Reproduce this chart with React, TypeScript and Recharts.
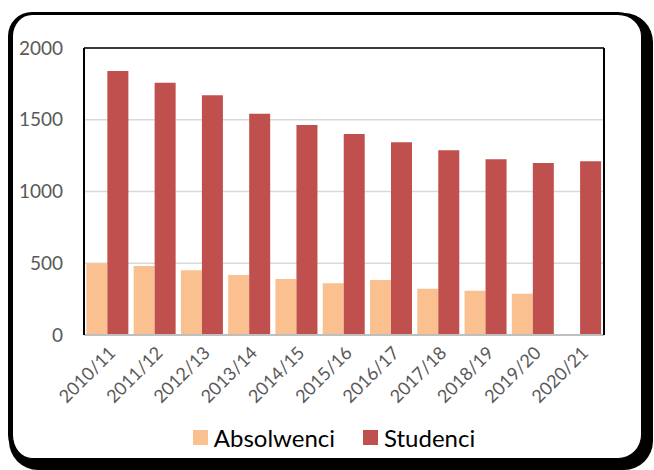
import { Bar, BarChart, CartesianGrid, Legend, XAxis, YAxis } from "recharts";

const categories = [
  "2010/11",
  "2011/12",
  "2012/13",
  "2013/14",
  "2014/15",
  "2015/16",
  "2016/17",
  "2017/18",
  "2018/19",
  "2019/20",
  "2020/21",
];
const absolwenci = [500, 481, 451, 418, 390, 360, 383, 323, 309, 288, 0];
const studenci = [1840, 1758, 1670, 1542, 1463, 1401, 1343, 1287, 1224, 1199, 1210];
const yTicks = [0, 500, 1000, 1500, 2000];

const seriesNames = ["Absolwenci", "Studenci"];
const colors = ["#FAC090", "#C0504D"];

const data = categories.map((rok, i) => ({
  rok,
  Absolwenci: absolwenci[i],
  Studenci: studenci[i],
}));

const font = "Lato, 'Open Sans', sans-serif";

const renderLegend = () => (
  <div
    style={{
      display: "flex",
      justifyContent: "center",
      alignItems: "center",
      height: 30,
      fontFamily: font,
      fontSize: 24,
      color: "#000",
    }}
  >
    {seriesNames.map((name, i) => (
      <span
        key={name}
        style={{ display: "flex", alignItems: "center", marginLeft: i ? 28 : 0 }}
      >
        <span
          style={{ width: 15, height: 15, background: colors[i], marginRight: 6 }}
        />
        {name}
      </span>
    ))}
  </div>
);

const App = () => {
  return (
    <div
      style={{
        position: "fixed",
        left: 0,
        top: 0,
        width: 654,
        height: 470,
        background: "#fff",
        overflow: "hidden",
      }}
    >
      <div
        style={{
          position: "absolute",
          left: 8,
          top: 12,
          width: 634,
          height: 447,
          boxSizing: "border-box",
          borderStyle: "solid",
          borderColor: "#000",
          borderWidth: "3px 1px 1px 5px",
          borderRadius: 24,
          boxShadow: "6px 6px 0 5px #000",
          background: "#fff",
        }}
      />
      <div style={{ position: "absolute", left: 0, top: 0 }}>
        <BarChart
          width={654}
          height={470}
          data={data}
          margin={{ top: 47, right: 49, bottom: 18, left: 24 }}
          barCategoryGap="5%"
          barGap={0}
        >
          <CartesianGrid vertical={false} stroke="#d9d9d9" strokeWidth={1.5} />
          <XAxis
            dataKey="rok"
            height={87}
            interval={0}
            tickLine={false}
            tickSize={0}
            tickMargin={10}
            angle={-45}
            textAnchor="end"
            axisLine={{ stroke: "#bfbfbf", strokeWidth: 2 }}
            tick={{ fill: "#595959", fontSize: 18, fontFamily: font }}
          />
          <XAxis
            xAxisId="top"
            dataKey="rok"
            orientation="top"
            height={1}
            interval={0}
            tick={false}
            tickLine={false}
            axisLine={{ stroke: "#000", strokeWidth: 1.5 }}
          />
          <YAxis
            width={60}
            domain={[0, 2000]}
            ticks={yTicks}
            tickLine={false}
            tickSize={0}
            tickMargin={21}
            axisLine={{ stroke: "#000", strokeWidth: 2 }}
            tick={{ fill: "#595959", fontSize: 19, fontFamily: font }}
          />
          <YAxis
            yAxisId="right"
            orientation="right"
            width={1}
            domain={[0, 2000]}
            ticks={yTicks}
            tick={false}
            tickLine={false}
            axisLine={{ stroke: "#000", strokeWidth: 2 }}
          />
          <Legend
            verticalAlign="bottom"
            content={renderLegend}
            wrapperStyle={{ left: 14, width: 640 }}
          />
          {seriesNames.map((name, i) => (
            <Bar
              key={name}
              dataKey={name}
              fill={colors[i]}
              isAnimationActive={false}
            />
          ))}
        </BarChart>
      </div>
    </div>
  );
};

export default App;
